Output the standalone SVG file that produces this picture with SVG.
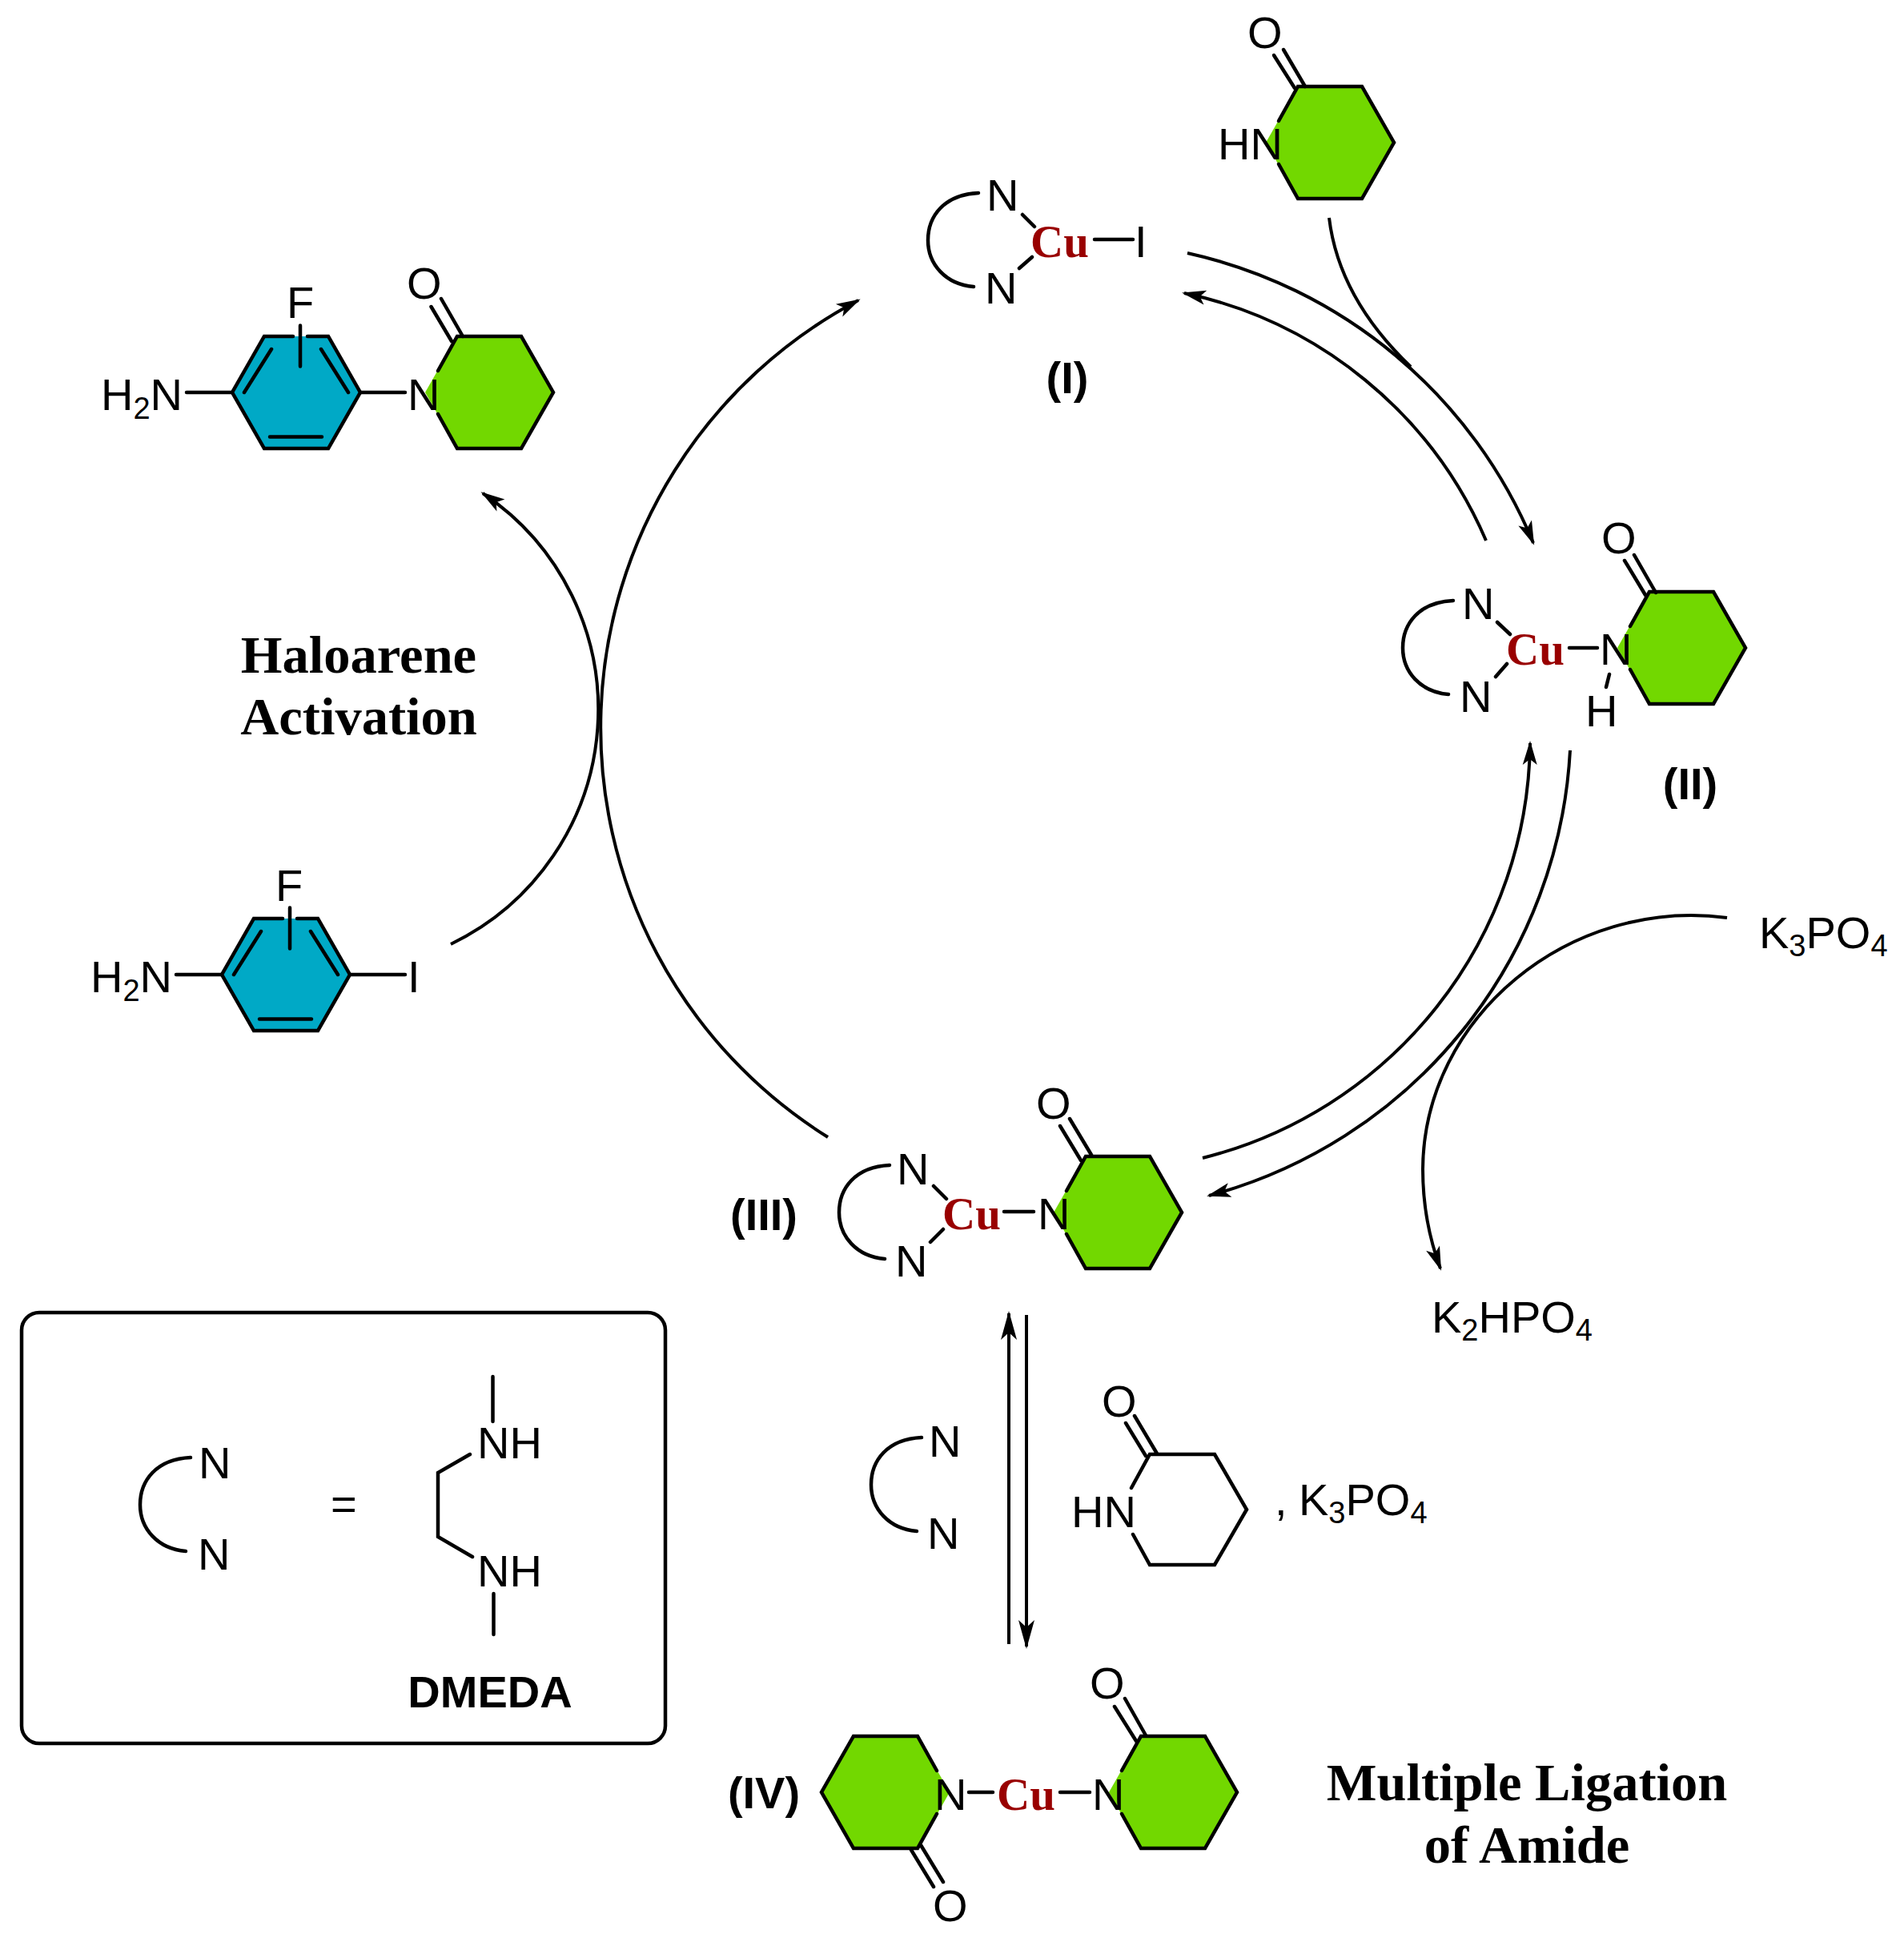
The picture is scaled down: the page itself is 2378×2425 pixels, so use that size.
<svg xmlns="http://www.w3.org/2000/svg" xmlns:xlink="http://www.w3.org/1999/xlink" width="2378" height="2425" viewBox="0 0 2378 2425">
<style>
text{font-family:"Liberation Sans",Arial,sans-serif;font-size:56px;fill:#000}
.sub{font-size:38px}
.cu{font-family:"Liberation Serif","Times New Roman",serif;font-weight:bold;font-size:57px;fill:#990000}
.head{font-family:"Liberation Serif","Times New Roman",serif;font-weight:bold;font-size:66.500px;text-anchor:middle}
.lab{font-weight:bold;text-anchor:middle}
.ln{fill:none;stroke:#000;stroke-width:4.500;stroke-linecap:round;stroke-linejoin:miter}
.arc{fill:none;stroke:#000;stroke-width:4.500;stroke-linecap:round}
.arr{fill:none;stroke:#000;stroke-width:4}
.gf{fill:#72d800}
.bf{fill:#00a9c6}
</style>
<defs>
<marker id="ah" markerUnits="userSpaceOnUse" markerWidth="40" markerHeight="24" viewBox="-32 -12 40 24" refX="0" refY="0" orient="auto"><path d="M3,0 L-27,-9 L-20,0 L-27,9 Z" fill="#000"/></marker>
<marker id="ahb" markerUnits="userSpaceOnUse" markerWidth="44" markerHeight="26" viewBox="-38 -13 44 26" refX="0" refY="0" orient="auto"><path d="M3,0 L-33,-10 L-24,0 L-33,10 Z" fill="#000"/></marker>
<g id="ring"><polygon class="gf" points="-40,-70 40,-70 80,0 40,70 -40,70 -80,0"/><polyline class="ln" points="-64,-27 -40,-70 40,-70 80,0 40,70 -40,70 -64,27"/></g>
<g id="aryl"><polygon class="bf" points="-40,-70 40,-70 80,0 40,70 -40,70 -80,0"/><polyline class="ln" points="14,-70 40,-70 80,0 40,70 -40,70 -80,0 -40,-70 -4,-70"/><path class="ln" d="M-65,0 L-31,-54 M65,0 L31,-54 M-33,55.500 L32,55.500 M5,-83.500 L5,-32.500"/></g>
<path id="lig" class="arc" d="M63,-59 C20,-57 0,-30 0,0 C0,30 22,55 57,58"/>
</defs>
<rect width="2378" height="2425" fill="#fff"/>
<g id="connectors">
<path class="arr" marker-end="url(#ah)" d="M1483,316 A610,610 0 0 1 1915,678"/>
<path class="arr" marker-end="url(#ah)" d="M1856,675 A530,530 0 0 0 1479,366"/>
<path class="arr" d="M1660,272 Q1672,372 1762,458"/>
<path class="arr" d="M1961,937 A610,610 0 0 1 1510,1493" marker-end="url(#ah)"/>
<path class="arr" d="M1502,1446 A540,540 0 0 0 1911,928" marker-end="url(#ah)"/>
<path class="arr" d="M2157,1146 C1960,1120 1778,1270 1777,1460 Q1777,1525 1799,1584" marker-end="url(#ah)"/>
<path class="arr" d="M1034,1420 A603,603 0 0 1 1072,375" marker-end="url(#ah)"/>
<path class="arr" d="M563,1179 A325,325 0 0 0 603,616" marker-end="url(#ah)"/>
<path class="arr" d="M1260,2053 L1260,1640" marker-end="url(#ahb)"/>
<path class="arr" d="M1282,1642 L1282,2056" marker-end="url(#ahb)"/>
</g>
<g id="amide-reagent">
<use href="#ring" xlink:href="#ring" transform="translate(1661,178)"/>
<path class="ln" d="M1591,69 L1617,110 M1603,62 L1630,108"/>
<text x="1558" y="60">O</text>
<text x="1521" y="199">HN</text>
</g>
<g id="complex-I">
<use href="#lig" xlink:href="#lig" transform="translate(1159,300)"/>
<path class="ln" d="M1277,268 L1292,283 M1289,321 L1273,335 M1367,299 L1415,299"/>
<text x="1232" y="263">N</text>
<text x="1230" y="379">N</text>
<text class="cu" x="1287" y="321">Cu</text>
<text x="1417" y="321">I</text>
<text class="lab" x="1333" y="491">(I)</text>
</g>
<g id="complex-II">
<use href="#ring" xlink:href="#ring" transform="translate(2100,809)"/>
<use href="#lig" xlink:href="#lig" transform="translate(1752,809)"/>
<path class="ln" d="M2029,700 L2055,743 M2041,693 L2068,740 M1870,777 L1886,792 M1882,829 L1868,845 M1960,809 L1995,809 M2010,842 L2006,858"/>
<text x="2000" y="691">O</text>
<text x="1826" y="773">N</text>
<text x="1823" y="889">N</text>
<text class="cu" x="1881" y="830">Cu</text>
<text x="1998" y="830">N</text>
<text x="1980" y="907">H</text>
<text class="lab" x="2111" y="998">(II)</text>
</g>
<g id="complex-III">
<use href="#ring" xlink:href="#ring" transform="translate(1396,1514)"/>
<use href="#lig" xlink:href="#lig" transform="translate(1048,1514)"/>
<path class="ln" d="M1324,1406 L1350,1449 M1336,1397 L1363,1442 M1166,1481 L1182,1497 M1178,1535 L1162,1551 M1254,1513 L1291,1513"/>
<text x="1294" y="1397">O</text>
<text x="1120" y="1479">N</text>
<text x="1118" y="1594">N</text>
<text class="cu" x="1177" y="1535">Cu</text>
<text x="1296" y="1535">N</text>
<text class="lab" x="954" y="1536">(III)</text>
</g>
<g id="complex-IV">
<use href="#ring" xlink:href="#ring" transform="translate(1106,2238) scale(-1,1)"/>
<use href="#ring" xlink:href="#ring" transform="translate(1465,2238)"/>
<path class="ln" d="M1392,2131 L1419,2174 M1405,2121 L1431,2167 M1138,2310 L1166,2356 M1150,2304 L1178,2350 M1210,2238 L1240,2238 M1324,2238 L1361,2238"/>
<text x="1361" y="2121">O</text>
<text x="1165" y="2399">O</text>
<text x="1167" y="2260">N</text>
<text class="cu" x="1245" y="2260">Cu</text>
<text x="1364" y="2260">N</text>
<text class="lab" x="954" y="2258">(IV)</text>
</g>
<g id="product">
<use href="#aryl" xlink:href="#aryl" transform="translate(370,490)"/>
<use href="#ring" xlink:href="#ring" transform="translate(611,490)"/>
<path class="ln" d="M233,490 L290,490 M450,490 L506,490 M538.500,383 L564,426 M551,373 L578,420"/>
<text x="358" y="397">F</text>
<text x="126" y="512">H<tspan class="sub" dy="11">2</tspan><tspan dy="-11">N</tspan></text>
<text x="509" y="512">N</text>
<text x="508" y="373">O</text>
</g>
<g id="haloarene">
<use href="#aryl" xlink:href="#aryl" transform="translate(357,1217)"/>
<path class="ln" d="M220,1217 L277,1217 M437,1217 L506,1217"/>
<text x="344" y="1125">F</text>
<text x="113" y="1239">H<tspan class="sub" dy="11">2</tspan><tspan dy="-11">N</tspan></text>
<text x="509" y="1239">I</text>
</g>
<g id="ligand-add">
<use href="#lig" xlink:href="#lig" transform="translate(1088,1854)"/>
<text x="1160" y="1819">N</text>
<text x="1158" y="1934">N</text>
</g>
<g id="amide-add">
<path class="ln" d="M1413,1858 L1436,1816 L1517,1816 L1557,1885 L1517,1954 L1436,1954 L1415,1916 M1406,1777 L1431,1818 M1417,1768 L1445,1815"/>
<text x="1376" y="1769">O</text>
<text x="1338" y="1907">HN</text>
<text x="1592" y="1892">,</text>
<text x="1622" y="1892">K<tspan class="sub" dy="10">3</tspan><tspan dy="-10">PO</tspan><tspan class="sub" dy="10">4</tspan></text>
</g>
<g id="base-in"><text x="2197" y="1184">K<tspan class="sub" dy="10">3</tspan><tspan dy="-10">PO</tspan><tspan class="sub" dy="10">4</tspan></text></g>
<g id="base-out"><text x="1788" y="1664">K<tspan class="sub" dy="10">2</tspan><tspan dy="-10">HPO</tspan><tspan class="sub" dy="10">4</tspan></text></g>
<g id="legend-box">
<rect x="27" y="1639" width="804" height="538" rx="22" ry="22" fill="none" stroke="#000" stroke-width="4.500"/>
<use href="#lig" xlink:href="#lig" transform="translate(175,1879)"/>
<text x="248" y="1846">N</text>
<text x="247" y="1960">N</text>
<text x="413" y="1897">=</text>
<path class="ln" d="M615.500,1719 L615.500,1775 M587,1816 L547,1839 L547,1919 L590,1944 M616.500,1990 L616.500,2041"/>
<text x="596" y="1821">NH</text>
<text x="596" y="1981">NH</text>
<text class="lab" x="612" y="2132">DMEDA</text>
</g>
<g id="label-haloarene">
<text class="head" x="448" y="840">Haloarene</text>
<text class="head" x="448" y="917">Activation</text>
</g>
<g id="label-multiple">
<text class="head" x="1907" y="2248">Multiple Ligation</text>
<text class="head" x="1907" y="2326">of Amide</text>
</g>
</svg>
